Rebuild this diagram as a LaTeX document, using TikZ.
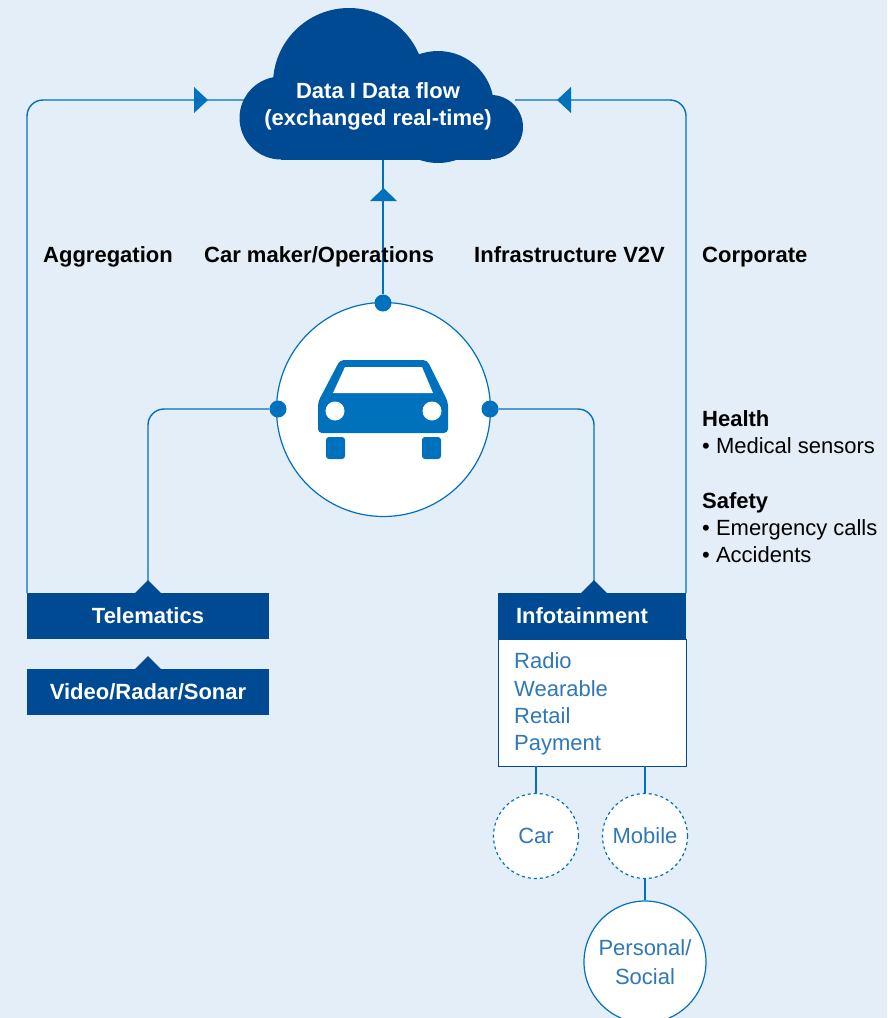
\documentclass[tikz,border=0pt]{standalone}
\usepackage{fontspec}
\setmainfont{Liberation Sans}
\usepackage{xcolor}
\usepackage{tikz}
\usetikzlibrary{positioning}
\definecolor{pagebg}{HTML}{E3EEF9}
\definecolor{darkblue}{HTML}{004A93}
\definecolor{midblue}{HTML}{0071BC}
\definecolor{textblue}{HTML}{2F78B7}

\tikzset{
  wire/.style={draw=midblue,line width=1.4pt},
  tip/.style={fill=midblue},
  dot/.style={circle,fill=midblue,inner sep=0pt,minimum size=17pt},
  heading/.style={font=\fontsize{22}{27}\selectfont\bfseries,anchor=base west,inner sep=0pt},
  bodytext/.style={font=\fontsize{22}{27}\selectfont,anchor=base west,inner sep=0pt},
  bluebox/.style={fill=darkblue,text=white,font=\fontsize{22}{27}\selectfont\bfseries,inner sep=0pt,minimum width=242pt,minimum height=46pt},
  bubble/.style={circle,fill=white,draw=midblue,line width=1.2pt,text=textblue,font=\fontsize{22}{27}\selectfont,align=center,inner sep=0pt}
}

\begin{document}
\begin{tikzpicture}[x=1pt,y=-1pt]
   \clip (0,0) rectangle (887,1018);
   \fill[pagebg] (0,0) rectangle (887,1018);

   % free ends at the cloud
   \coordinate (cw) at (250,100);
   \coordinate (ce) at (515,100);
   \coordinate (cs) at (383,155);
   \coordinate (telleft) at (27,593);
   \coordinate (infotop) at (594,593);
   \coordinate (inforight) at (686,593);
   \coordinate (liscar) at (536,766);
   \coordinate (lismob) at (645,766);

   % nodes
   \node[bubble,minimum size=214pt] (hub) at (383.5,409.5) {};
   \node[bluebox] (v1) at (148,616) {Telematics};
   \node[bluebox] (v2) at (148,692) {Video/Radar/Sonar};
   \node[bluebox,minimum width=188pt] (v3) at (592,616) {\hspace*{-20pt}Infotainment};
   \node[dot] (d1) at (383,303) {};
   \node[dot] (d2) at (278,409) {};
   \node[dot] (d3) at (490,409) {};
   \node[bubble,dashed,minimum size=85pt] (v4) at (536,836) {Car};
   \node[bubble,dashed,minimum size=85pt] (v5) at (645,836) {Mobile};
   \node[bubble,minimum size=122pt] (v6) at (645,962) {Personal/\\[2pt]Social};

   % connectors
   \draw[wire,rounded corners=16pt] (telleft) |- (cw);
   \draw[wire,rounded corners=16pt] (inforight) |- (ce);
   \draw[wire] (d1) -- (cs);
   \draw[wire,rounded corners=16pt] (d2) -| (v1.north);
   \draw[wire,rounded corners=16pt] (d3) -| (infotop);
   \draw[wire] (v5) -- (v6);

   % info box
   \node[fill=white,draw=darkblue,line width=1.2pt,minimum width=188pt,minimum height=127pt,anchor=north west,inner sep=0pt] (v7) at (498,639) {};
   \node[bluebox,minimum width=188pt] at (v3) {\hspace*{-20pt}Infotainment};
   \node[bodytext,text=textblue] (r1) at (514,668) {Radio};
   \node[bodytext,text=textblue] (r2) at (514,696) {Wearable};
   \node[bodytext,text=textblue] (r3) at (514,723) {Retail};
   \node[bodytext,text=textblue] (r4) at (514,750) {Payment};
   \draw[wire] (liscar) -- (v4);
   \draw[wire] (lismob) -- (v5);

   % cloud
   \begin{scope}
    \fill[darkblue] (349,84) circle (76);
    \fill[darkblue] (438,107) circle (56);
    \fill[darkblue] (491,127) circle (32);
    \fill[darkblue] (281,118) circle (41.5);
    \fill[darkblue] (281,100) rectangle (491,159.5);
   \end{scope}
   \node[white,font=\fontsize{22}{27}\selectfont\bfseries,align=center,inner sep=0pt] (cloud) at (378,106) {Data I Data flow\\(exchanged real-time)};

   % arrow heads
   \fill[tip] (194,87) -- (208,100) -- (194,113) -- cycle;
   \fill[tip] (571,87) -- (557,100) -- (571,113) -- cycle;
   \fill[tip] (370,201) -- (383.5,188) -- (397,201) -- cycle;
   \fill[darkblue] (135,593) -- (148,580) -- (161,593) -- cycle;
   \fill[darkblue] (135,669) -- (148,656) -- (161,669) -- cycle;
   \fill[darkblue] (581,593) -- (594,580) -- (607,593) -- (594,606) -- cycle;

   % car
   \fill[midblue,rounded corners=4pt] (318,433) -- (318,402) -- (340,360) -- (427,360) -- (448,402) -- (448,433) -- cycle;
   \fill[white] (333,393) -- (345,367) -- (422,367) -- (433,393) -- cycle;
   \fill[white] (335,411) circle (9.5);
   \fill[white] (432,411) circle (9.5);
   \fill[midblue,rounded corners=3pt] (326,437) -- (345,437) -- (345,459) -- (326,459) -- cycle;
   \fill[midblue,rounded corners=3pt] (422,437) -- (441,437) -- (441,459) -- (422,459) -- cycle;

   % labels
   \node[heading] (l1) at (43,262) {Aggregation};
   \node[heading] (l2) at (204,262) {Car maker/Operations};
   \node[heading] (l3) at (474,262) {Infrastructure V2V};
   \node[heading] (l4) at (702,262) {Corporate};
   \node[heading] (l5) at (702,426) {Health};
   \node[bodytext] (l6) at (702,453) {• Medical sensors};
   \node[heading] (l7) at (702,508) {Safety};
   \node[bodytext] (l8) at (702,535) {• Emergency calls};
   \node[bodytext] (l9) at (702,562) {• Accidents};
\end{tikzpicture}
\end{document}
